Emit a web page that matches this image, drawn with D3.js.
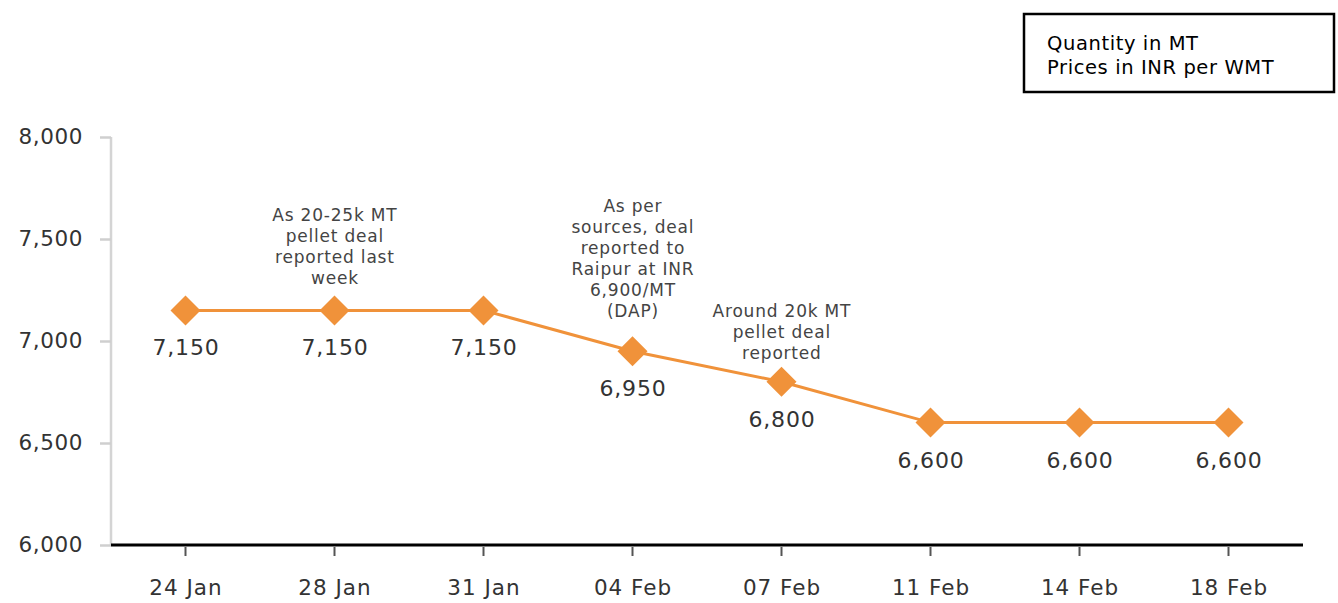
<!DOCTYPE html>
<html><head><meta charset="utf-8">
<script src="https://cdn.jsdelivr.net/npm/d3@7"></script>
<style>html,body{margin:0;padding:0;background:#fff;}svg{display:block;}</style>
</head><body>
<svg id="chart" width="1338" height="603"></svg>
<script>
const categories = ["24 Jan","28 Jan","31 Jan","04 Feb","07 Feb","11 Feb","14 Feb","18 Feb"];
const prices = [7150,7150,7150,6950,6800,6600,6600,6600];
const yTicks = [6000,6500,7000,7500,8000];
const annotations = [
  {cat:"28 Jan", lines:["As 20-25k MT","pellet deal","reported last","week"]},
  {cat:"04 Feb", lines:["As per","sources, deal","reported to","Raipur at INR","6,900/MT","(DAP)"]},
  {cat:"07 Feb", lines:["Around 20k MT","pellet deal","reported"]}
];
const noteLines = ["Quantity in MT","Prices in INR per WMT"];

const svg = d3.select("#chart");
const font = "'DejaVu Sans', Verdana, sans-serif";
const x = d3.scaleBand().domain(categories).range([111,1303]).paddingInner(0).paddingOuter(0);
const y = d3.scaleLinear().domain([6000,8000]).range([545,137]);
const cx = c => x(c) + x.bandwidth()/2;

// Legend box
svg.append("rect").attr("x",1024).attr("y",14).attr("width",310).attr("height",78)
  .attr("fill","#fff").attr("stroke","#000").attr("stroke-width",2.5);
svg.selectAll("text.note").data(noteLines).join("text").attr("class","note")
  .attr("x",1047).attr("y",(d,i)=>50+i*24).attr("font-family",font).attr("font-size",19.5)
  .attr("letter-spacing",0.6).attr("fill","#000").text(d=>d);

// Y axis
const yAxis = svg.append("g").attr("transform","translate(111,0)")
  .call(d3.axisLeft(y).tickValues(yTicks).tickFormat(d3.format(",")).tickSize(11).tickPadding(17));
yAxis.select(".domain").attr("stroke","#d4d4d4").attr("stroke-width",2.5).attr("d","M0,137V545");
yAxis.selectAll(".tick line").attr("stroke","#cfcfcf").attr("stroke-width",2.5);
yAxis.selectAll(".tick text").attr("font-family",font).attr("font-size",21.5).attr("letter-spacing",0.6).attr("fill","#333");

// X axis
const xAxis = svg.append("g").attr("transform","translate(0,545)")
  .call(d3.axisBottom(x).tickSize(11).tickPadding(24));
xAxis.select(".domain").attr("stroke","#000").attr("stroke-width",3).attr("d","M111,0H1303");
xAxis.selectAll(".tick line").attr("stroke","#555").attr("stroke-width",2).attr("y1",2);
xAxis.selectAll(".tick text").attr("font-family",font).attr("font-size",21.5).attr("letter-spacing",1)
  .attr("dx",0.5).attr("fill","#333");

// Line
const orange = "#F0923A";
svg.append("path").datum(prices).attr("fill","none").attr("stroke",orange).attr("stroke-width",3)
  .attr("d", d3.line().x((d,i)=>cx(categories[i])).y(d=>y(d)));

// Markers
const r = 15;
svg.selectAll("path.mk").data(prices).join("path").attr("class","mk")
  .attr("d",(d,i)=>{const px=cx(categories[i]),py=y(d);return `M${px},${py-r}L${px+r},${py}L${px},${py+r}L${px-r},${py}Z`;})
  .attr("fill",orange);

// Value labels
svg.selectAll("text.val").data(prices).join("text").attr("class","val")
  .attr("x",(d,i)=>cx(categories[i])+0.5).attr("y",d=>y(d)+45)
  .attr("text-anchor","middle").attr("font-family",font).attr("font-size",22).attr("letter-spacing",0.8)
  .attr("fill","#333").text(d=>d3.format(",")(d));

// Annotations
const annOffset = {"28 Jan":26,"04 Feb":34,"07 Feb":23};
annotations.forEach(a=>{
  const i = categories.indexOf(a.cat);
  const base = y(prices[i]) - annOffset[a.cat];
  const n = a.lines.length;
  svg.append("g").selectAll("text").data(a.lines).join("text")
    .attr("x",cx(a.cat)+0.4).attr("y",(d,k)=>base-(n-1-k)*21)
    .attr("text-anchor","middle").attr("font-family",font).attr("font-size",17).attr("letter-spacing",0.8)
    .attr("fill","#444").text(d=>d);
});
</script>
</body></html>
